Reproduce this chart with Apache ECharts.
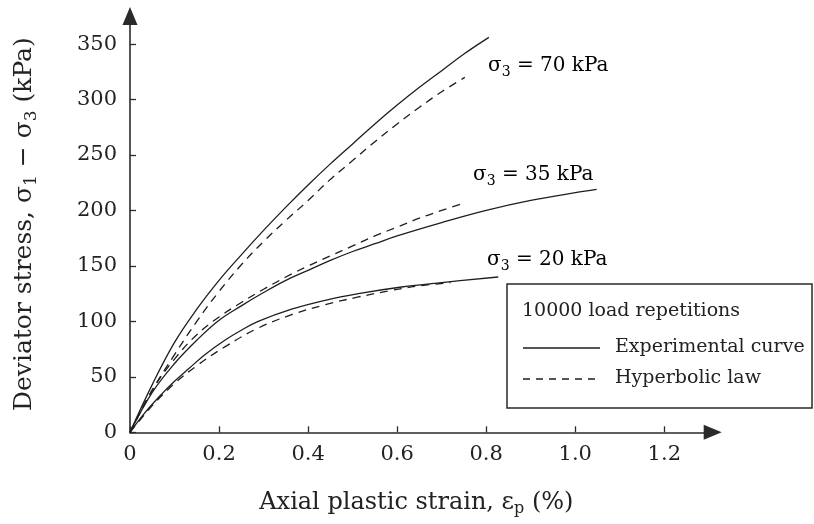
<!DOCTYPE html>
<html>
<head>
<meta charset="utf-8">
<script src="https://cdn.jsdelivr.net/npm/echarts@6/dist/echarts.min.js"></script>
<style>html,body{margin:0;padding:0;background:#fff;}#c{width:814px;height:524px;}</style>
</head>
<body>
<div id="c"></div>
<script>
// Data: [axial plastic strain (%), deviator stress (kPa)]
const exp70 = [[0,0],[0.05,43],[0.1,81],[0.15,111],[0.2,137],[0.25,160],[0.3,182],[0.35,203],[0.4,223],[0.45,242],[0.5,260],[0.55,278],[0.6,295],[0.65,311],[0.7,326],[0.75,341],[0.806,356]];
const hyp70 = [[0,0],[0.05,38],[0.1,70],[0.15,100],[0.2,127],[0.25,151],[0.3,172],[0.35,191],[0.4,209],[0.45,228],[0.5,245],[0.55,262],[0.6,278],[0.65,293],[0.7,307],[0.752,320]];
const exp35 = [[0,0],[0.05,36],[0.1,62],[0.15,83],[0.2,101],[0.25,114],[0.3,126],[0.35,137],[0.4,146],[0.45,155],[0.5,163],[0.55,170],[0.6,177],[0.7,189],[0.8,200],[0.9,209],[1.0,216],[1.048,219]];
const hyp35 = [[0,0],[0.05,38],[0.1,66],[0.15,88],[0.2,104],[0.25,117],[0.3,129],[0.35,140],[0.4,150],[0.45,159],[0.5,168],[0.55,177],[0.6,185],[0.65,193],[0.7,200],[0.752,207]];
const exp20 = [[0,0],[0.03,16],[0.07,34],[0.1,46],[0.131,57],[0.168,70],[0.213,83],[0.25,92],[0.288,100],[0.363,111],[0.438,119],[0.513,125],[0.61,131],[0.7,135],[0.827,140]];
const hyp20 = [[0,0],[0.05,24],[0.1,44],[0.15,60],[0.213,77],[0.288,94],[0.363,106],[0.438,115],[0.513,122],[0.588,128],[0.65,132],[0.72,135]];
const xTicks = [0, 0.2, 0.4, 0.6, 0.8, 1.0, 1.2];
const yTicks = [0, 50, 100, 150, 200, 250, 300, 350];
const curveLabels = ['70', '35', '20'];
const legendTitle = '10000 load repetitions';
const legendNames = ['Experimental curve', 'Hyperbolic law'];

const FONT = 'DejaVu Serif';
const INK = '#222';
const chart = echarts.init(document.getElementById('c'), null, {renderer: 'canvas'});

function lineSeries(data, dashed) {
  return {
    type: 'line', data: data, smooth: 0.4, showSymbol: false, silent: true,
    lineStyle: {color: '#1e1e1e', width: 1.3, type: dashed ? [8, 6] : 'solid'}
  };
}
const subRich = {
  t: {fontFamily: FONT, fontSize: 20, color: INK},
  b: {fontFamily: FONT, fontSize: 14, color: INK, padding: [12, 0, 0, 0]}
};
function annot(x, y, val) {
  return {type: 'text', x: x, y: y, silent: true,
    style: {text: '{t|σ}{b|3}{t| = ' + val + ' kPa}', rich: subRich, verticalAlign: 'middle', align: 'left'}};
}
const xTitleRich = {
  t: {fontFamily: FONT, fontSize: 24, color: INK},
  b: {fontFamily: FONT, fontSize: 16, color: INK, padding: [14, 0, 0, 0]}
};
const yTitleRich = {
  t: {fontFamily: FONT, fontSize: 25, color: INK},
  b: {fontFamily: FONT, fontSize: 17, color: INK, padding: [14, 0, 0, 0]}
};

chart.setOption({
  animation: false,
  backgroundColor: '#fff',
  grid: {left: 130, right: 101.3, top: 16, bottom: 91.7},
  xAxis: {
    type: 'value', min: 0, max: 1.3087,
    name: '{t|Axial plastic strain, ε}{b|p}{t| (%)}',
    nameLocation: 'middle', nameGap: 55,
    nameTextStyle: {rich: xTitleRich, padding: [0, 10, 0, 0]},
    axisLine: {show: true, onZero: false, symbol: ['none', 'triangle'], symbolSize: [15, 18], lineStyle: {color: '#2a2a2a', width: 1.6}},
    axisTick: {show: true, inside: true, length: 6, customValues: xTicks, lineStyle: {color: '#2a2a2a', width: 1.3}},
    axisLabel: {customValues: xTicks, margin: 12, fontFamily: FONT, fontSize: 21, color: INK,
      formatter: v => v === 0 ? '0' : v.toFixed(1)},
    splitLine: {show: false}
  },
  yAxis: {
    type: 'value', min: 0, max: 375.3,
    name: '{t|Deviator stress, σ}{b|1}{t| − σ}{b|3}{t| (kPa)}',
    nameLocation: 'middle', nameGap: 90, nameRotate: 90,
    nameTextStyle: {rich: yTitleRich},
    axisLine: {show: true, onZero: false, symbol: ['none', 'triangle'], symbolSize: [15, 18], lineStyle: {color: '#2a2a2a', width: 1.6}},
    axisTick: {show: true, inside: true, length: 6, customValues: yTicks, lineStyle: {color: '#2a2a2a', width: 1.3}},
    axisLabel: {customValues: yTicks, margin: 13, fontFamily: FONT, fontSize: 21, color: INK},
    splitLine: {show: false}
  },
  series: [
    lineSeries(exp70, false), lineSeries(hyp70, true),
    lineSeries(exp35, false), lineSeries(hyp35, true),
    lineSeries(exp20, false), lineSeries(hyp20, true)
  ],
  graphic: [
    annot(488, 66, curveLabels[0]),
    annot(473, 175, curveLabels[1]),
    annot(487, 260, curveLabels[2]),
    {type: 'rect', silent: true, shape: {x: 507, y: 284, width: 305, height: 124},
      style: {fill: '#fff', stroke: '#2a2a2a', lineWidth: 1.5}},
    {type: 'text', x: 522, y: 311, silent: true,
      style: {text: legendTitle, fontFamily: FONT, fontSize: 19, fill: INK, verticalAlign: 'middle'}},
    {type: 'line', silent: true, shape: {x1: 523, y1: 348, x2: 600, y2: 348},
      style: {stroke: '#1e1e1e', lineWidth: 1.3}},
    {type: 'text', x: 615, y: 347, silent: true,
      style: {text: legendNames[0], fontFamily: FONT, fontSize: 19, fill: INK, verticalAlign: 'middle'}},
    {type: 'line', silent: true, shape: {x1: 523, y1: 379, x2: 600, y2: 379},
      style: {stroke: '#1e1e1e', lineWidth: 1.3, lineDash: [7, 6]}},
    {type: 'text', x: 615, y: 378, silent: true,
      style: {text: legendNames[1], fontFamily: FONT, fontSize: 19, fill: INK, verticalAlign: 'middle'}}
  ]
});
</script>
</body>
</html>
